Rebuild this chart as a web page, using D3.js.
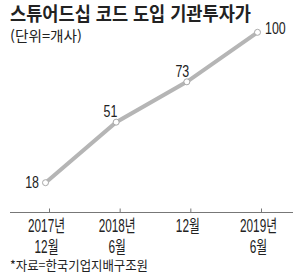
<!DOCTYPE html>
<html lang="ko">
<head>
<meta charset="UTF-8">
<title>스튜어드십 코드 도입 기관투자가</title>
<script src="https://d3js.org/d3.v7.min.js"></script>
<style>
  body { margin: 0; background: #fff; }
  svg { display: block; }
  text { fill: #222; }
</style>
</head>
<body>
<svg width="300" height="279"></svg>
<script>
// data
const periods = ["2017-12", "2018-06", "2018-12", "2019-06"];
const tickLine1 = ["2017년", "2018년", "12월", "2019년"];
const tickLine2 = ["12월", "6월", "", "6월"];
const counts = [18, 51, 73, 100];

const title = "스튜어드십 코드 도입 기관투자가";
const unit = "(단위=개사)";
const source = "*자료=한국기업지배구조원";

const width = 300, height = 279;
const svg = d3.select("svg").attr("width", width).attr("height", height);

const numFont = "'Liberation Sans', Arial, 'Noto Sans CJK KR', sans-serif";
const krFont = "'Noto Sans CJK KR', 'Noto Sans', sans-serif";

const xScale = d3.scalePoint().domain(periods).range([49, 261]);
const yScale = d3.scaleLinear().domain([0, 100]).range([215.7, 32.3]);
const axisY = 212.5;
const shift = -3.5; // points sit slightly left of ticks

// title + unit
svg.append("text")
  .attr("x", 10).attr("y", 21)
  .attr("font-family", krFont).attr("font-weight", 700)
  .attr("font-size", 19)
  .attr("textLength", 241).attr("lengthAdjust", "spacingAndGlyphs")
  .text(title);

svg.append("text")
  .attr("x", 10).attr("y", 41)
  .attr("font-family", krFont).attr("font-size", 14)
  .attr("textLength", 72).attr("lengthAdjust", "spacingAndGlyphs")
  .text(unit);

// x axis
const axis = d3.axisBottom(xScale).tickSize(-4).tickFormat("");
const ax = svg.append("g")
  .attr("transform", `translate(0,${axisY})`)
  .call(axis);
ax.select(".domain").remove();
ax.selectAll(".tick line").attr("stroke", "#777");
svg.append("line")
  .attr("x1", 10).attr("x2", 293)
  .attr("y1", axisY).attr("y2", axisY)
  .attr("stroke", "#777").attr("stroke-width", 1);

// condensed look: fixed width per digit / per hangul char
function squeeze(s) {
  let w = 0;
  for (const c of s) w += /[0-9]/.test(c) ? 6.5 : 11;
  return w;
}

const labels = svg.append("g");
periods.forEach((p, i) => {
  const cx = xScale(p) + shift + 1;
  labels.append("text")
    .attr("x", cx).attr("y", 231.5)
    .attr("text-anchor", "middle")
    .attr("font-family", numFont).attr("font-size", 17.5)
    .attr("textLength", squeeze(tickLine1[i])).attr("lengthAdjust", "spacingAndGlyphs")
    .text(tickLine1[i]);
  if (tickLine2[i]) {
    labels.append("text")
      .attr("x", cx).attr("y", 252.5)
      .attr("text-anchor", "middle")
      .attr("font-family", numFont).attr("font-size", 17.5)
      .attr("textLength", squeeze(tickLine2[i])).attr("lengthAdjust", "spacingAndGlyphs")
      .text(tickLine2[i]);
  }
});

// line
const line = d3.line()
  .x((d, i) => xScale(periods[i]) + shift)
  .y(d => yScale(d));

svg.append("path")
  .datum(counts)
  .attr("fill", "none")
  .attr("stroke", "#b5b5b5")
  .attr("stroke-width", 4)
  .attr("d", line);

svg.selectAll("circle.pt")
  .data(counts)
  .join("circle")
  .attr("class", "pt")
  .attr("cx", (d, i) => xScale(periods[i]) + shift)
  .attr("cy", d => yScale(d))
  .attr("r", 3)
  .attr("fill", "#fff")
  .attr("stroke", "#a8a8a8")
  .attr("stroke-width", 1);

// value labels
const offsets = [
  { dx: -6.5, dy: 5.5, anchor: "end" },
  { dx: -5.7, dy: -5, anchor: "middle" },
  { dx: -4.5, dy: -4.5, anchor: "middle" },
  { dx: 7.5, dy: 2, anchor: "start" }
];
svg.selectAll("text.val")
  .data(counts)
  .join("text")
  .attr("class", "val")
  .attr("x", (d, i) => xScale(periods[i]) + shift + offsets[i].dx)
  .attr("y", (d, i) => yScale(d) + offsets[i].dy)
  .attr("text-anchor", (d, i) => offsets[i].anchor)
  .attr("font-family", numFont)
  .attr("font-size", 16.5)
  .attr("textLength", d => String(d).length * 6.9)
  .attr("lengthAdjust", "spacingAndGlyphs")
  .text(d => d);

// source
svg.append("text")
  .attr("x", 10).attr("y", 270)
  .attr("font-family", krFont).attr("font-size", 13)
  .attr("textLength", 138).attr("lengthAdjust", "spacingAndGlyphs")
  .text(source);
</script>
</body>
</html>
